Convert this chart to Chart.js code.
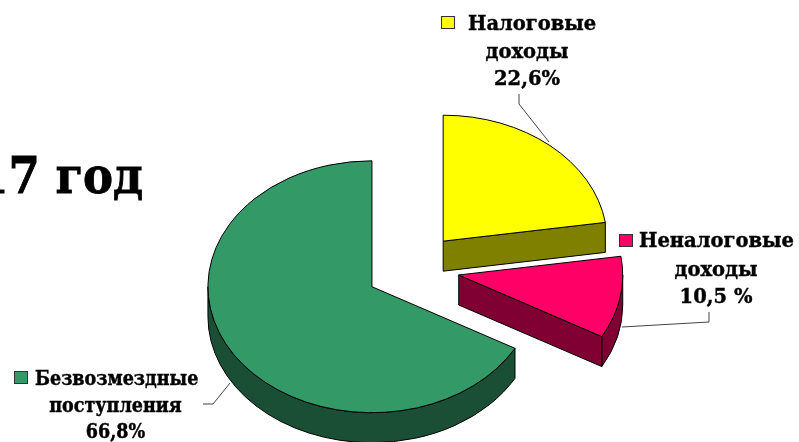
<!DOCTYPE html>
<html lang="en">
<head>
  <meta charset="UTF-8" />
  <title>Доходы 2017</title>
  <script src="https://cdn.jsdelivr.net/npm/chart.js"></script>
  <style>
    html, body { margin: 0; padding: 0; background: #fff; overflow: hidden; }
    canvas { display: block; }
  </style>
</head>
<body>
  <canvas id="pie" width="799" height="442"></canvas>

  <script>
    // data
    const categories = ["Налоговые доходы", "Неналоговые доходы", "Безвозмездные поступления"];
    const shares = [22.6, 10.5, 66.8];
    const titleText = "2017 год";
    const labelLines = [
      ["Налоговые", "доходы", "22,6%"],
      ["Неналоговые", "доходы", "10,5 %"],
      ["Безвозмездные", "поступления", "66,8%"]
    ];

    // styles
    const topColors = ["#ffff00", "#ff0066", "#339966"];
    const wallColors = ["#808000", "#800033", "#1b4f35"];
    const SQUASH = 0.768;
    const EXPLODE = 47;
    const DEPTH = 30;
    const wideFont = "bold 19.5px 'DejaVu Serif'";
    const narrowFont = "bold 19.5px 'DejaVu Serif Condensed'";

    // where the labels sit: first line left x, centre x of the other lines, baselines, key corner, font
    const labelBoxes = [
      { left: 468, mid: 527, base: [30, 58, 85], key: [441, 16], font: wideFont },
      { left: 639, mid: 716, base: [247, 276, 303], key: [619, 234], font: wideFont },
      { left: 35, mid: 115.5, base: [385, 412, 438], key: [14, 371], font: narrowFont }
    ];
    const leaders = [
      [[519, 94], [519, 104], [549, 142]],
      [[709, 312], [709, 322], [622, 327]],
      [[203, 404], [213, 404], [230, 383]]
    ];

    function geometry(arc) {
      const p = arc.getProps(["x", "y", "startAngle", "endAngle", "outerRadius"], true);
      const mid = (p.startAngle + p.endAngle) / 2;
      return {
        x: p.x + Math.cos(mid) * EXPLODE,
        y: p.y + Math.sin(mid) * EXPLODE * SQUASH,
        r: p.outerRadius,
        a0: p.startAngle,
        a1: p.endAngle
      };
    }

    function pt(g, a, dy) {
      return [g.x + Math.cos(a) * g.r, g.y + Math.sin(a) * g.r * SQUASH + dy];
    }

    function ellipseArc(ctx, g, a0, a1, dy, ccw) {
      ctx.ellipse(g.x, g.y + dy, g.r, g.r * SQUASH, 0, a0, a1, ccw);
    }

    function drawWalls(ctx, g, wall) {
      ctx.fillStyle = wall;
      ctx.strokeStyle = "#000";
      ctx.lineWidth = 1;
      // curved outer wall, only the part that faces us
      const from = Math.max(g.a0, 0);
      const to = Math.min(g.a1, Math.PI);
      if (to > from) {
        ctx.beginPath();
        ellipseArc(ctx, g, from, to, 0, false);
        ellipseArc(ctx, g, to, from, DEPTH, true);
        ctx.closePath();
        ctx.fill();
        ctx.stroke();
      }
      // flat wall along the end edge of the slice
      if (Math.cos(g.a1) > 0.01) {
        const e = pt(g, g.a1, 0);
        ctx.beginPath();
        ctx.moveTo(g.x, g.y);
        ctx.lineTo(e[0], e[1]);
        ctx.lineTo(e[0], e[1] + DEPTH);
        ctx.lineTo(g.x, g.y + DEPTH);
        ctx.closePath();
        ctx.fill();
        ctx.stroke();
      }
    }

    function drawTop(ctx, g, color) {
      ctx.beginPath();
      ctx.moveTo(g.x, g.y);
      ellipseArc(ctx, g, g.a0, g.a1, 0, false);
      ctx.closePath();
      ctx.fillStyle = color;
      ctx.fill();
      ctx.strokeStyle = "#000";
      ctx.lineWidth = 1;
      ctx.stroke();
    }

    function heavyText(ctx, text, x, y) {
      ctx.fillText(text, x, y);
      ctx.strokeText(text, x, y);
    }

    // the library lays the slices out, this draws them as extruded squashed wedges
    const pie3d = {
      id: "pie3d",
      beforeDatasetDraw(chart) {
        const ctx = chart.ctx;
        const arcs = chart.getDatasetMeta(0).data;
        ctx.save();
        arcs.forEach((arc, i) => {
          const g = geometry(arc);
          drawWalls(ctx, g, wallColors[i]);
          drawTop(ctx, g, topColors[i]);
        });
        ctx.restore();
        return false;
      },
      afterDraw(chart) {
        const ctx = chart.ctx;
        ctx.save();
        // title cut by the left edge
        ctx.fillStyle = "#000";
        ctx.strokeStyle = "#000";
        ctx.lineWidth = 0.8;
        ctx.font = "bold 50px 'DejaVu Serif Condensed'";
        ctx.textAlign = "right";
        ctx.textBaseline = "alphabetic";
        heavyText(ctx, titleText, 143, 193);

        // leader lines
        ctx.strokeStyle = "#444";
        ctx.lineWidth = 1;
        leaders.forEach(line => {
          ctx.beginPath();
          line.forEach((p, i) => i ? ctx.lineTo(p[0], p[1]) : ctx.moveTo(p[0], p[1]));
          ctx.stroke();
        });

        // labels with their colour keys
        labelLines.forEach((lines, i) => {
          const box = labelBoxes[i];
          ctx.font = box.font;
          ctx.fillStyle = "#000";
          ctx.strokeStyle = "#000";
          ctx.lineWidth = 0.4;
          ctx.textAlign = "left";
          heavyText(ctx, lines[0], box.left, box.base[0]);
          ctx.textAlign = "center";
          heavyText(ctx, lines[1], box.mid, box.base[1]);
          heavyText(ctx, lines[2], box.mid, box.base[2]);
          ctx.fillStyle = topColors[i];
          ctx.strokeStyle = "#333";
          ctx.lineWidth = 1;
          ctx.fillRect(box.key[0] + 0.5, box.key[1] + 0.5, 13, 12);
          ctx.strokeRect(box.key[0] + 0.5, box.key[1] + 0.5, 13, 12);
        });
        ctx.restore();
      }
    };

    new Chart(document.getElementById("pie"), {
      type: "pie",
      data: {
        labels: categories,
        datasets: [{
          data: shares,
          backgroundColor: topColors,
          borderWidth: 0,
          radius: 164
        }]
      },
      options: {
        responsive: false,
        animation: false,
        // puts the undisplaced centre of the pie where the reference has it
        layout: { padding: { left: 26, top: 95 } },
        plugins: { legend: { display: false }, tooltip: { enabled: false } }
      },
      plugins: [pie3d]
    });
  </script>
</body>
</html>
